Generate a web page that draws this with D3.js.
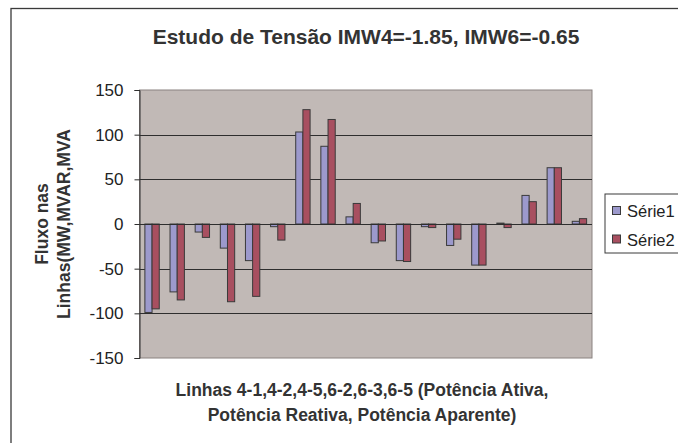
<!DOCTYPE html>
<html>
<head>
<meta charset="utf-8">
<script src="https://cdn.jsdelivr.net/npm/d3@7"></script>
<style>
  html, body { margin: 0; padding: 0; background: #fff; }
  svg { display: block; font-family: "Liberation Sans", Arial, sans-serif; }
</style>
</head>
<body>
<svg id="chart" width="678" height="443"></svg>
<script>
// Categories (18 columns) and the two series
const categories = ["1","2","3","4","5","6","7","8","9","10","11","12","13","14","15","16","17","18"];
const serie1 = [-99, -76, -9, -27, -41, -3, 103, 87, 8, -21, -41, -3, -24, -46, 1, 32, 63, 3];
const serie2 = [-95, -85, -15, -87, -81, -18, 128, 117, 23, -19, -42, -4, -17, -46, -4, 25, 63, 6];
const seriesNames = ["Série1", "Série2"];
const seriesColors = ["#9c99cc", "#a84f60"];
const yTicks = [150, 100, 50, 0, -50, -100, -150];

const titleText = "Estudo de Tensão IMW4=-1.85, IMW6=-0.65";
const yTitleLines = ["Fluxo nas", "Linhas(MW,MVAR,MVA"];
const xTitleLines = ["Linhas 4-1,4-2,4-5,6-2,6-3,6-5 (Potência Ativa,", "Potência Reativa, Potência Aparente)"];

const svg = d3.select("#chart");
const plot = { left: 139.5, right: 592, top: 90, bottom: 358 };

// Chart area frame (runs off the right and bottom edges)
svg.append("rect")
  .attr("x", 11).attr("y", 8.5)
  .attr("width", 700).attr("height", 460)
  .attr("fill", "#fff").attr("stroke", "#3a3a3a").attr("stroke-width", 1.3);

// Scales
const x = d3.scaleBand().domain(categories)
  .range([plot.left, plot.right])
  .paddingInner(1.5 / 3.5).paddingOuter(0.75 / 3.5);
const xs = d3.scaleBand().domain(d3.range(seriesNames.length)).range([0, x.bandwidth()]);
const y = d3.scaleLinear().domain([-150, 150]).range([plot.bottom, plot.top]);

// Plot area
svg.append("rect")
  .attr("x", plot.left).attr("y", plot.top)
  .attr("width", plot.right - plot.left).attr("height", plot.bottom - plot.top)
  .attr("fill", "#c1b9b6").attr("stroke", "#8a8280").attr("stroke-width", 1);

// Horizontal gridlines
svg.append("g").selectAll("line")
  .data(yTicks.filter(t => t !== 150 && t !== -150))
  .join("line")
  .attr("x1", plot.left).attr("x2", plot.right)
  .attr("y1", d => Math.round(y(d)) + 0.5).attr("y2", d => Math.round(y(d)) + 0.5)
  .attr("stroke", "#2e2e2e").attr("stroke-width", 1);

// Bars
const data = categories.map((c, i) => ({ c, v: [serie1[i], serie2[i]] }));
const groups = svg.append("g").selectAll("g")
  .data(data).join("g")
  .attr("transform", d => `translate(${x(d.c)},0)`);
groups.selectAll("rect")
  .data(d => d.v.map((v, k) => ({ v, k })))
  .join("rect")
  .attr("x", d => xs(d.k))
  .attr("width", xs.bandwidth())
  .attr("y", d => y(Math.max(0, d.v)))
  .attr("height", d => Math.abs(y(d.v) - y(0)))
  .attr("fill", d => seriesColors[d.k])
  .attr("stroke", "#3a3a3a").attr("stroke-width", 1);

// Zero line drawn over bar edges
svg.append("line")
  .attr("x1", plot.left).attr("x2", plot.right)
  .attr("y1", Math.round(y(0)) + 0.5).attr("y2", Math.round(y(0)) + 0.5)
  .attr("stroke", "#2e2e2e").attr("stroke-width", 1);

// Value axis
const yAxis = d3.axisLeft(y).tickValues(yTicks).tickSize(5).tickPadding(11).tickFormat(d3.format("d"));
const ga = svg.append("g").attr("transform", `translate(${plot.left},0)`).call(yAxis);
ga.select(".domain").attr("stroke", "#2e2e2e");
ga.selectAll(".tick line").attr("stroke", "#2e2e2e");
ga.selectAll(".tick text")
  .attr("font-size", 17).attr("fill", "#222")
  .attr("font-family", "'Liberation Sans', Arial, sans-serif")
  .text(d => d < 0 ? "-" + Math.abs(d) : d);

// Title
svg.append("text")
  .attr("x", 366).attr("y", 44)
  .attr("text-anchor", "middle")
  .attr("font-size", 21).attr("font-weight", "bold").attr("fill", "#333")
  .text(titleText);

// Value axis title (two rotated lines)
const yMid = (plot.top + plot.bottom) / 2;
yTitleLines.forEach((t, i) => {
  svg.append("text")
    .attr("transform", `translate(${48 + i * 22},${yMid}) rotate(-90)`)
    .attr("text-anchor", "middle")
    .attr("font-size", 17.5).attr("font-weight", "bold").attr("fill", "#333")
    .text(t);
});

// Category axis title (two lines)
xTitleLines.forEach((t, i) => {
  svg.append("text")
    .attr("x", 362).attr("y", 396 + i * 25)
    .attr("text-anchor", "middle")
    .attr("font-size", 17.5).attr("font-weight", "bold").attr("fill", "#333")
    .text(t);
});

// Legend
const lg = svg.append("g").attr("transform", "translate(605,194)");
lg.append("rect").attr("x", 0).attr("y", 0).attr("width", 100).attr("height", 59)
  .attr("fill", "#fff").attr("stroke", "#3a3a3a").attr("stroke-width", 1);
seriesNames.forEach((name, i) => {
  lg.append("rect")
    .attr("x", 7.5).attr("y", 12.5 + i * 28.5).attr("width", 8).attr("height", 8)
    .attr("fill", seriesColors[i]).attr("stroke", "#3a3a3a").attr("stroke-width", 1);
  lg.append("text")
    .attr("x", 22).attr("y", 23 + i * 28.5)
    .attr("font-size", 16.5).attr("fill", "#222")
    .text(name);
});
</script>
</body>
</html>
